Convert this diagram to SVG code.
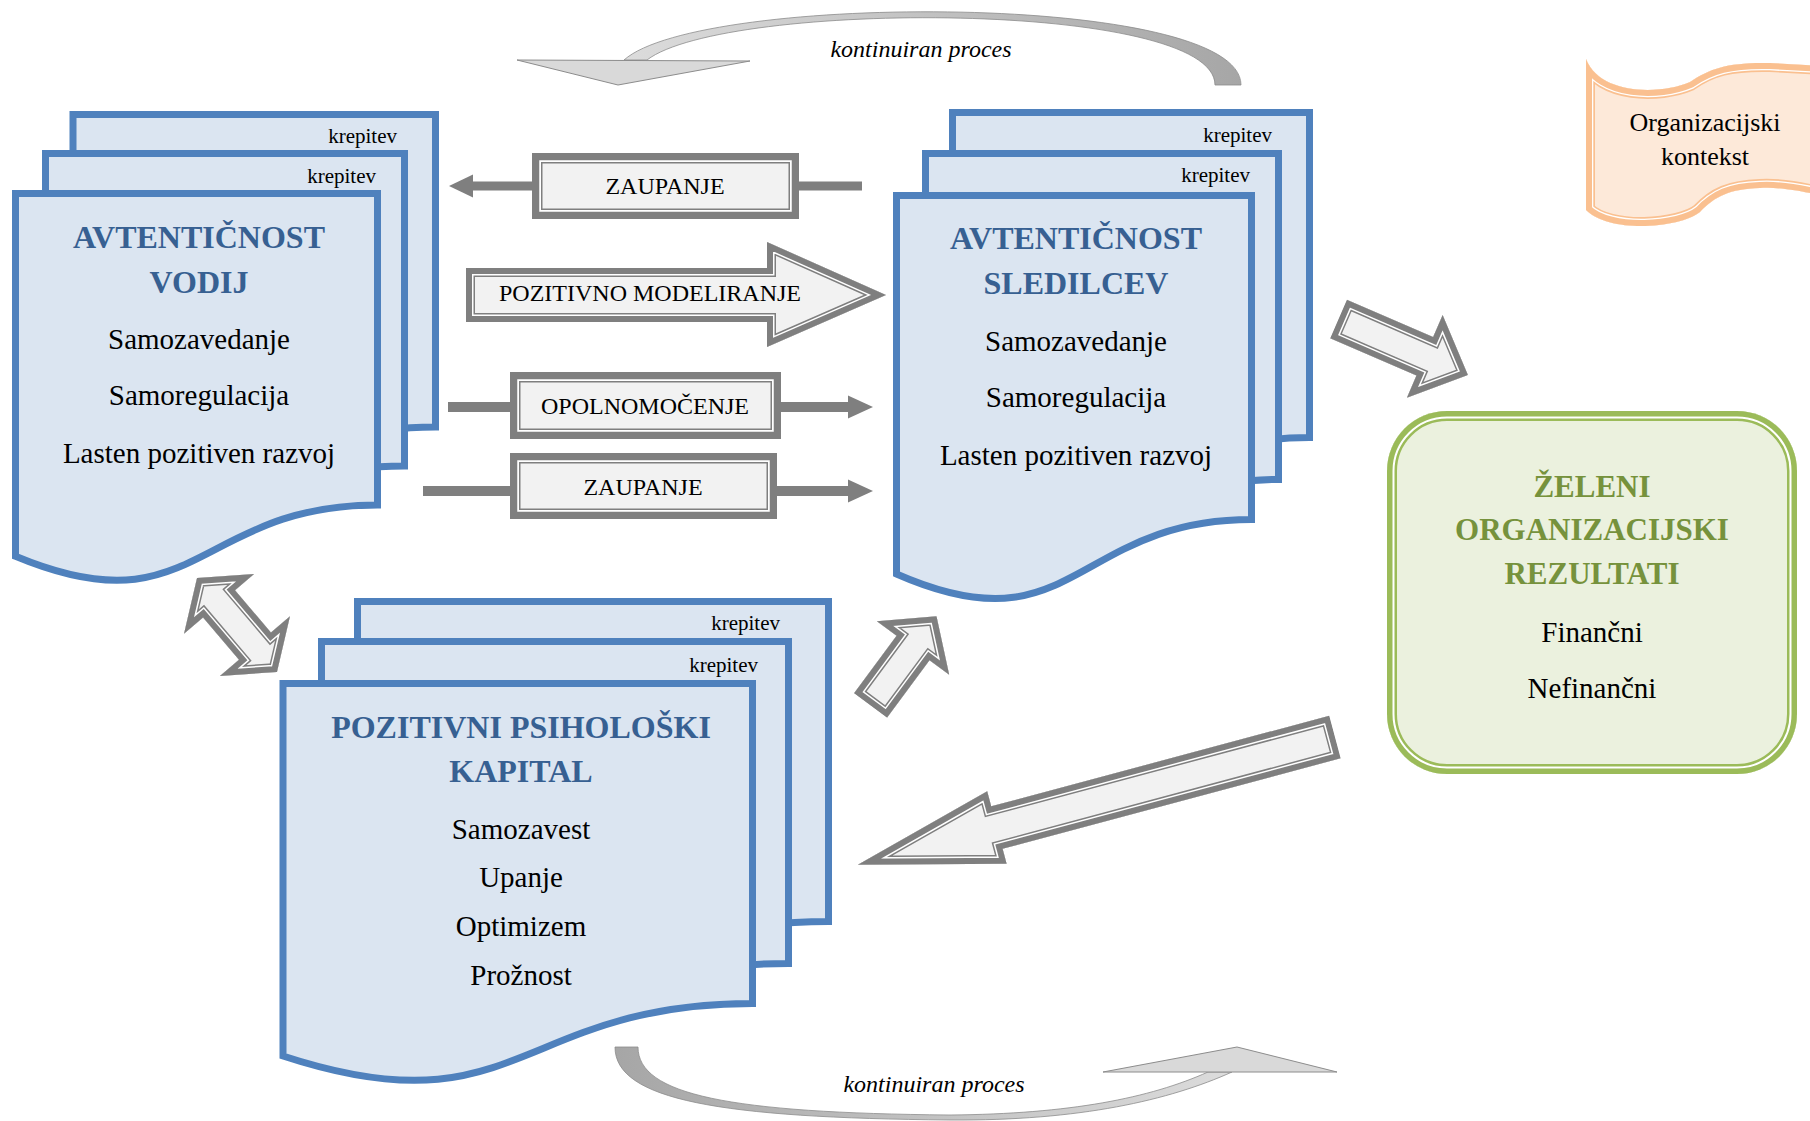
<svg xmlns="http://www.w3.org/2000/svg" xmlns:xlink="http://www.w3.org/1999/xlink" width="1810" height="1121" viewBox="0 0 1810 1121">
<style>
  text { font-family: "Liberation Serif", "Times New Roman", serif; fill: #000; }
  .page { fill: #DBE5F1; stroke: #4F81BD; stroke-width: 7; stroke-linejoin: miter; }
  .ttl { font-size: 32px; font-weight: bold; fill: #376092; text-anchor: middle; }
  .body { font-size: 29px; text-anchor: middle; }
  .kr { font-size: 21px; text-anchor: end; }
  .lbl { font-size: 24px; text-anchor: middle; }
  .it { font-size: 24px; font-style: italic; text-anchor: middle; }
  .gttl { font-size: 31px; font-weight: bold; fill: #76923C; text-anchor: middle; }
  .ok { font-size: 26px; text-anchor: middle; }
  .gf { fill: #F2F2F2; stroke: #7F7F7F; stroke-width: 18; stroke-linejoin: miter; stroke-miterlimit: 10; }
  .gw { fill: none; stroke: #FFFFFF; stroke-width: 15; stroke-linejoin: miter; stroke-miterlimit: 10; }
  .gi { fill: none; stroke: #7F7F7F; stroke-width: 12; stroke-linejoin: miter; stroke-miterlimit: 10; }
  .bf { fill: #F2F2F2; stroke: #7F7F7F; stroke-width: 21; }
  .bw { fill: none; stroke: #FFFFFF; stroke-width: 18; }
  .bi { fill: none; stroke: #7F7F7F; stroke-width: 14.5; }
  .nf { fill: #EBF1DE; stroke: #9BBB59; stroke-width: 20; }
  .nw { fill: none; stroke: #FFFFFF; stroke-width: 15; }
  .ni { fill: none; stroke: #9BBB59; stroke-width: 11; }
  .of { fill: #FDE9D9; stroke: #FAC090; stroke-width: 18; stroke-linejoin: round; }
  .ow { fill: none; stroke: #FFFFFF; stroke-width: 14.6; stroke-linejoin: round; }
  .oi { fill: none; stroke: #FAC090; stroke-width: 12; stroke-linejoin: round; }
  .line { stroke: #7F7F7F; fill: none; }
  .head { fill: #7F7F7F; }
  .ch { fill: #D9D9D9; stroke: #8C8C8C; stroke-width: 1; stroke-linejoin: miter; }
</style>
<defs>
  <linearGradient id="gTop" gradientUnits="userSpaceOnUse" x1="624" y1="0" x2="1241" y2="0">
    <stop offset="0" stop-color="#DCDCDC"/>
    <stop offset="1" stop-color="#A6A6A6"/>
  </linearGradient>
  <linearGradient id="gBot" gradientUnits="userSpaceOnUse" x1="615" y1="0" x2="1232" y2="0">
    <stop offset="0" stop-color="#A6A6A6"/>
    <stop offset="1" stop-color="#DCDCDC"/>
  </linearGradient>
  <path id="arrA" d="M466,268 H767 V242 L886,295 L767,347 V322 H466 Z"/>
  <path id="arrB" d="M0,-21 H94 V-45 L141,0 L94,45 V21 H0 Z"/>
  <path id="arrC" d="M0,-20.5 H71.5 V-45 L111,0 L71.5,45 V20.5 H0 Z"/>
  <path id="arrD" d="M0,-22 H350 V-37.5 L494,0 L350,37.5 V22 H0 Z"/>
  <path id="arrE" d="M0,0 L34,-46 V-21 H89.4 V-46 L123.4,0 L89.4,46 V21 H34 V46 Z"/>
  <rect id="box1" x="532" y="153" width="267" height="66"/>
  <rect id="box2" x="510" y="372" width="271" height="67"/>
  <rect id="box3" x="510" y="453" width="267" height="66"/>
  <rect id="grn" x="1387" y="411" width="410" height="363" rx="60" ry="60"/>
  <path id="wave" d="M1586,59 C1600,95 1660,95 1690,82 C1710,68 1730,62 1770,63 L1840,67 L1840,200 C1800,190 1780,187 1760,188 C1730,189 1715,196 1700,212 C1680,228 1610,234 1586,210 Z"/>
  <clipPath id="cA"><use xlink:href="#arrA"/></clipPath>
  <clipPath id="cB"><use xlink:href="#arrB"/></clipPath>
  <clipPath id="cC"><use xlink:href="#arrC"/></clipPath>
  <clipPath id="cD"><use xlink:href="#arrD"/></clipPath>
  <clipPath id="cE"><use xlink:href="#arrE"/></clipPath>
  <clipPath id="cb1"><use xlink:href="#box1"/></clipPath>
  <clipPath id="cb2"><use xlink:href="#box2"/></clipPath>
  <clipPath id="cb3"><use xlink:href="#box3"/></clipPath>
  <clipPath id="cg"><use xlink:href="#grn"/></clipPath>
  <clipPath id="cw"><use xlink:href="#wave"/></clipPath>
</defs>

<!-- Node: Avtenticnost vodij -->
<g id="node-vodij">
  <path class="page" d="M73,114.5 H435.5 V427 C254,427 254,546 73,478.5 Z"/>
  <path class="page" d="M45.5,153.5 H404.5 V466 C225,466 225,585 45.5,517.5 Z"/>
  <path class="page" d="M15.5,193.5 H377.5 V505 C196.5,505 196.5,632 15.5,556.3 Z"/>
  <text class="kr" x="397" y="143">krepitev</text>
  <text class="kr" x="376" y="183">krepitev</text>
  <text class="ttl" x="199" y="248">AVTENTIČNOST</text>
  <text class="ttl" x="199" y="293">VODIJ</text>
  <text class="body" x="199" y="349">Samozavedanje</text>
  <text class="body" x="199" y="405">Samoregulacija</text>
  <text class="body" x="199" y="463">Lasten pozitiven razvoj</text>
</g>

<!-- Node: Avtenticnost sledilcev -->
<g id="node-sledilcev">
  <path class="page" d="M952.5,112.5 H1309.5 V437.5 C1131,437.5 1131,561 952.5,490.8 Z"/>
  <path class="page" d="M925.5,153.5 H1278.5 V479.5 C1102,479.5 1102,603.7 925.5,533.2 Z"/>
  <path class="page" d="M896.5,195.5 H1251.5 V519.5 C1074,519.5 1074,652 896.5,574 Z"/>
  <text class="kr" x="1272" y="142">krepitev</text>
  <text class="kr" x="1250" y="182">krepitev</text>
  <text class="ttl" x="1076" y="249">AVTENTIČNOST</text>
  <text class="ttl" x="1076" y="294">SLEDILCEV</text>
  <text class="body" x="1076" y="351">Samozavedanje</text>
  <text class="body" x="1076" y="407">Samoregulacija</text>
  <text class="body" x="1076" y="465">Lasten pozitiven razvoj</text>
</g>

<!-- Node: Pozitivni psiholoski kapital -->
<g id="node-kapital">
  <path class="page" d="M357.5,601.5 H828.5 V921.5 C593,921.5 593,1043.4 357.5,974 Z"/>
  <path class="page" d="M321.5,641.5 H788.5 V963.5 C555,963.5 555,1086 321.5,1016.5 Z"/>
  <path class="page" d="M283,683.5 H752.5 V1003.5 C517.75,1003.5 517.75,1133 283,1056 Z"/>
  <text class="kr" x="780" y="630">krepitev</text>
  <text class="kr" x="758" y="672">krepitev</text>
  <text class="ttl" x="521" y="738">POZITIVNI PSIHOLOŠKI</text>
  <text class="ttl" x="521" y="782">KAPITAL</text>
  <text class="body" x="521" y="839">Samozavest</text>
  <text class="body" x="521" y="887">Upanje</text>
  <text class="body" x="521" y="936">Optimizem</text>
  <text class="body" x="521" y="985">Prožnost</text>
</g>

<!-- Node: Zeleni organizacijski rezultati -->
<g id="node-rezultati">
  <g clip-path="url(#cg)">
    <use xlink:href="#grn" class="nf"/>
    <use xlink:href="#grn" class="nw"/>
    <use xlink:href="#grn" class="ni"/>
  </g>
  <text class="gttl" x="1592" y="497">ŽELENI</text>
  <text class="gttl" x="1592" y="540">ORGANIZACIJSKI</text>
  <text class="gttl" x="1592" y="584">REZULTATI</text>
  <text class="body" x="1592" y="642">Finančni</text>
  <text class="body" x="1592" y="698">Nefinančni</text>
</g>

<!-- Node: Organizacijski kontekst -->
<g id="node-kontekst">
  <g clip-path="url(#cw)">
    <use xlink:href="#wave" class="of"/>
    <use xlink:href="#wave" class="ow"/>
    <use xlink:href="#wave" class="oi"/>
  </g>
  <text class="ok" x="1705" y="131">Organizacijski</text>
  <text class="ok" x="1705" y="165">kontekst</text>
</g>

<!-- Connectors -->
<g id="connectors">
  <!-- ZAUPANJE (sledilci -> vodje) -->
  <g id="conn-zaupanje-top">
    <line class="line" x1="470" y1="186" x2="862" y2="186" stroke-width="9"/>
    <polygon class="head" points="449,186 473,174.5 473,197.5"/>
    <g clip-path="url(#cb1)">
      <use xlink:href="#box1" class="bf"/>
      <use xlink:href="#box1" class="bw"/>
      <use xlink:href="#box1" class="bi"/>
    </g>
    <text class="lbl" x="665" y="194">ZAUPANJE</text>
  </g>

  <!-- POZITIVNO MODELIRANJE -->
  <g id="conn-modeliranje">
    <g clip-path="url(#cA)">
      <use xlink:href="#arrA" class="gf"/>
      <use xlink:href="#arrA" class="gw"/>
      <use xlink:href="#arrA" class="gi"/>
    </g>
    <text class="lbl" x="650" y="301">POZITIVNO MODELIRANJE</text>
  </g>

  <!-- OPOLNOMOCENJE -->
  <g id="conn-opolnomocenje">
    <line class="line" x1="448" y1="407" x2="850" y2="407" stroke-width="10"/>
    <polygon class="head" points="873,407 848,395.5 848,418.5"/>
    <g clip-path="url(#cb2)">
      <use xlink:href="#box2" class="bf"/>
      <use xlink:href="#box2" class="bw"/>
      <use xlink:href="#box2" class="bi"/>
    </g>
    <text class="lbl" x="645" y="414">OPOLNOMOČENJE</text>
  </g>

  <!-- ZAUPANJE (vodje -> sledilci) -->
  <g id="conn-zaupanje-bottom">
    <line class="line" x1="423" y1="491" x2="850" y2="491" stroke-width="10"/>
    <polygon class="head" points="873,491 848,479.5 848,502.5"/>
    <g clip-path="url(#cb3)">
      <use xlink:href="#box3" class="bf"/>
      <use xlink:href="#box3" class="bw"/>
      <use xlink:href="#box3" class="bi"/>
    </g>
    <text class="lbl" x="643" y="495">ZAUPANJE</text>
  </g>

  <!-- sledilci -> rezultati -->
  <g id="conn-sledilci-rezultati" transform="translate(1338.5,319) rotate(23.4)">
    <g clip-path="url(#cB)">
      <use xlink:href="#arrB" class="gf"/>
      <use xlink:href="#arrB" class="gw"/>
      <use xlink:href="#arrB" class="gi"/>
    </g>
  </g>

  <!-- kapital -> sledilci -->
  <g id="conn-kapital-sledilci" transform="translate(870.5,705.5) rotate(-53.5)">
    <g clip-path="url(#cC)">
      <use xlink:href="#arrC" class="gf"/>
      <use xlink:href="#arrC" class="gw"/>
      <use xlink:href="#arrC" class="gi"/>
    </g>
  </g>

  <!-- rezultati -> kapital -->
  <g id="conn-rezultati-kapital" transform="translate(1335,737) rotate(165)">
    <g clip-path="url(#cD)">
      <use xlink:href="#arrD" class="gf"/>
      <use xlink:href="#arrD" class="gw"/>
      <use xlink:href="#arrD" class="gi"/>
    </g>
  </g>

  <!-- vodje <-> kapital -->
  <g id="conn-vodje-kapital" transform="translate(197,578) rotate(49.6)">
    <g clip-path="url(#cE)">
      <use xlink:href="#arrE" class="gf"/>
      <use xlink:href="#arrE" class="gw"/>
      <use xlink:href="#arrE" class="gi"/>
    </g>
  </g>

  <!-- top curved arrow: kontinuiran proces -->
  <g id="conn-proces-top">
    <path d="M624,60 C700,-8 1241,-8 1241,85 L1215,85 C1215,0 725,0 647,60 Z" fill="url(#gTop)" stroke="#8C8C8C" stroke-width="0.8"/>
    <polygon class="ch" points="517,60 750,61 618,85"/>
    <text class="it" x="921" y="57">kontinuiran proces</text>
  </g>

  <!-- bottom curved arrow: kontinuiran proces -->
  <g id="conn-proces-bottom">
    <path d="M615,1047 C615,1100 720,1118 950,1120 C1080,1121 1170,1100 1232,1072 L1208,1072 C1150,1098 1070,1114 950,1115 C730,1113 638,1095 638,1047 Z" fill="url(#gBot)" stroke="#8C8C8C" stroke-width="0.8"/>
    <polygon class="ch" points="1103,1072 1237,1047 1337,1072"/>
    <text class="it" x="934" y="1092">kontinuiran proces</text>
  </g>
</g>
</svg>
